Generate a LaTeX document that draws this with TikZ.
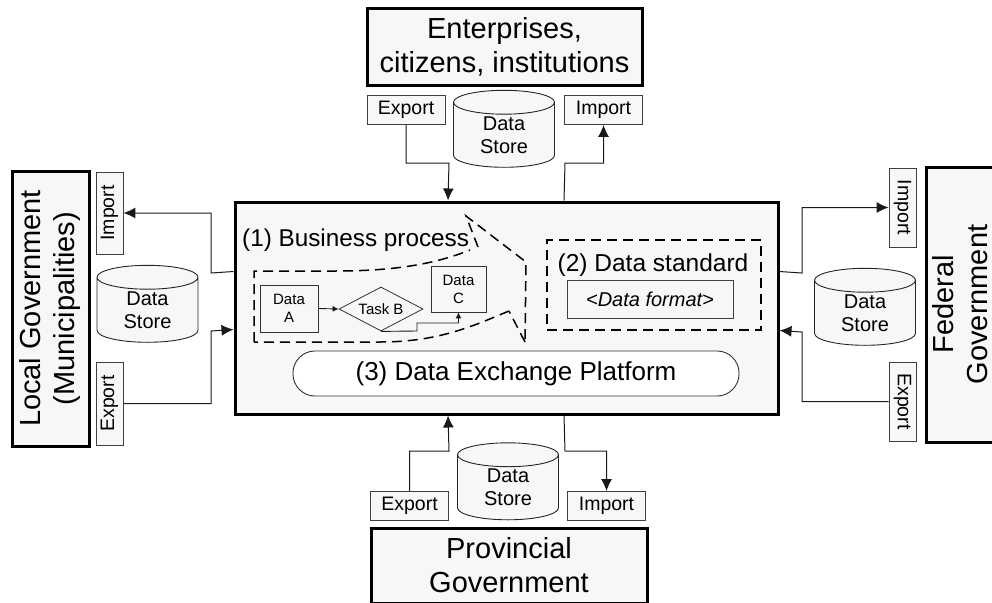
\documentclass[tikz,border=0pt]{standalone}
\usepackage{fontspec}
\setmainfont{Liberation Sans}
\usetikzlibrary{arrows.meta,shapes.geometric}

\begin{document}
\begin{tikzpicture}[x=1pt,y=-1pt,
    party/.style={draw,line width=3pt,fill=black!3,align=center,inner sep=0pt,font=\fontsize{29}{34}\selectfont},
    port/.style={draw=black!75,line width=0.9pt,fill=black!3,inner sep=0pt,minimum width=78pt,minimum height=29pt,font=\fontsize{19.5}{22}\selectfont},
    store/.style={draw=black!85,line width=0.9pt,fill=black!3,cylinder,shape border rotate=90,aspect=0.5,inner sep=0pt,minimum width=101pt,minimum height=77pt,align=center,font=\fontsize{20}{23}\selectfont},
    link/.style={draw=black!90,line width=1pt,-{Latex[length=12pt,width=11pt]}},
    small/.style={draw=black!80,line width=0.8pt,inner sep=0pt,align=center,font=\fontsize{15}{18}\selectfont},
    fence/.style={line width=1.5pt,dash pattern=on 10pt off 6pt}]
    \useasboundingbox (0,0) rectangle (992,602);

    % the four parties
    \node[party,minimum width=275pt,minimum height=76pt] (Top) at (504.5,47) {Enterprises,\\citizens, institutions};
    \node[party,minimum width=276pt,minimum height=75pt] (Bottom) at (509,565.5) {Provincial\\Government};
    \node[party,rotate=90,minimum width=275pt,minimum height=77pt] (Left) at (50.5,308.5) {Local Government\\(Municipalities)};
    \node[party,rotate=90,minimum width=275pt,minimum height=68pt] (Right) at (960,304.5) {Federal\\Government};

    % platform in the middle
    \node[draw,line width=3pt,fill=black!3,minimum width=543pt,minimum height=212pt] (Main) at (506.5,308) {};

    % ports and stores
    \node[port] (ExportT) at (406,110) {Export};
    \node[port] (ImportT) at (603.5,110) {Import};
    \node[store] (StoreT) at (504,135) {Data\\Store};
    \node[port] (ExportB) at (409.5,506) {Export};
    \node[port] (ImportB) at (606.5,506) {Import};
    \node[store] (StoreB) at (508,487.5) {Data\\Store};
    \node[port,rotate=90,minimum width=82pt,minimum height=27pt] (ImportL) at (109.5,213) {Import};
    \node[port,rotate=90,minimum width=83pt,minimum height=27pt] (ExportL) at (109.5,403.5) {Export};
    \node[store] (StoreL) at (147.5,310) {Data\\Store};
    \node[port,rotate=-90,minimum width=79pt,minimum height=27pt] (ImportR) at (902.5,207.5) {Import};
    \node[port,rotate=-90,minimum width=79pt,minimum height=27pt] (ExportR) at (902.5,401.5) {Export};
    \node[store] (StoreR) at (865,313) {Data\\Store};

    % connectors
    \draw[link] (ExportT.south) -- (406,163) -- (449,163) -- ([xshift=214.5pt]Main.north west);
    \draw[link] ([xshift=330.5pt]Main.north west) -- (565,163) -- (603.5,163) -- (ImportT.south);
    \draw[link] (ExportB.north) -- (409.5,451) -- (449,451) -- ([xshift=214.5pt]Main.south west);
    \draw[link] ([xshift=330.5pt]Main.south west) -- (565,451) -- (606.5,451) -- (ImportB.north);
    \draw[link] ([yshift=-71pt]Main.north west) -- (211,273) -- (211,213) -- (ImportL.south);
    \draw[link] (ExportL.south) -- (211,403.5) -- (211,331) -- ([yshift=-129pt]Main.north west);
    \draw[link] ([yshift=-71pt]Main.north east) -- (802,273) -- (802,207.5) -- (ImportR.south);
    \draw[link] (ExportR.south) -- (802,401.5) -- (802,332) -- ([yshift=-130pt]Main.north east);

    % (1) business process
    \draw[fence] (254,342) -- (254,271) -- (335,271) .. controls (395,271) and (435,264) .. (470,250);
    \draw[fence] (478,247) -- (466,216) -- (526,262) -- (525,342);
    \draw[fence] (509,311) .. controls (475,325) and (440,342) .. (380,342) -- (254,342);
    \draw[fence] (525,342) -- (509,311);
    \node[anchor=base west,inner sep=0pt,font=\fontsize{24.3}{28}\selectfont] (Business) at (242,246) {(1) Business process};
    \node[small,fill=black!3,minimum width=58pt,minimum height=47pt] (DataA) at (289,308.5) {Data\\A};
    \node[small,diamond,aspect=1.9,minimum width=84pt,minimum height=44pt] (TaskB) at (381,309) {Task B};
    \node[small,fill=black!3,minimum width=55pt,minimum height=46pt] (DataC) at (458.5,289) {Data\\C};
    \draw[draw=black!90,line width=0.9pt,-{Latex[length=6pt,width=6pt]}] (DataA.east) -- (TaskB.west);
    \draw[draw=black!90,line width=0.9pt,-{Latex[length=6pt,width=6pt]}] (TaskB.south) -- (417,331) -- (417,323) -- (DataC.south |- 0,323) -- (DataC.south);

    % (2) data standard
    \node[draw,fence,minimum width=214pt,minimum height=90pt] (Standard) at (654,285) {};
    \node[anchor=base,inner sep=0pt,font=\fontsize{24.5}{28}\selectfont] (StandardText) at (653,271) {(2) Data standard};
    \node[port,minimum width=166pt,minimum height=38pt,font=\fontsize{20}{22}\selectfont] (Format) at (650,299) {\textit{<Data format>}};

    % (3) platform
    \node[draw=black!80,line width=0.9pt,fill=white,rounded corners=22pt,minimum width=446pt,minimum height=45pt,font=\fontsize{26}{28}\selectfont] (Platform) at (516,373.5) {(3) Data Exchange Platform};
\end{tikzpicture}
\end{document}
